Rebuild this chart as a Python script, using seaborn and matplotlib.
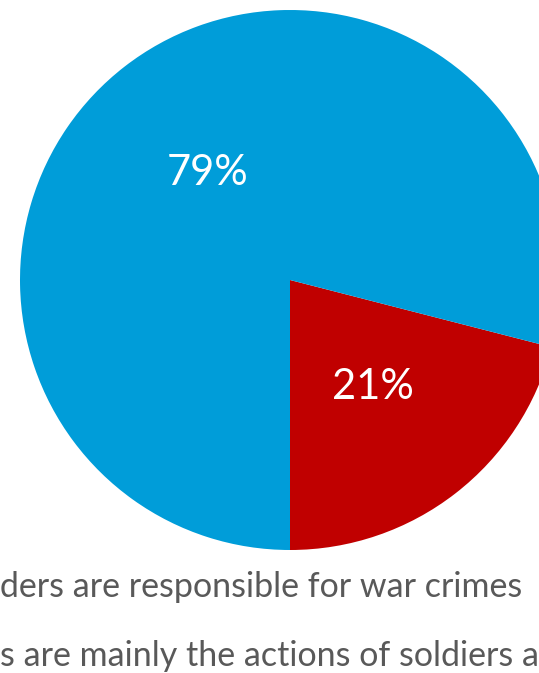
import matplotlib
matplotlib.use("Agg")
import matplotlib.pyplot as plt
import seaborn as sns

# Data
categories = ["Commanders are responsible for war crimes",
              "War crimes are mainly the actions of soldiers acting alone"]
values = [79, 21]
colors = ["#009DD9", "#C00000"]
# prefixes hidden beyond the left edge of the picture
hidden_prefix = ["Comman", "War crime"]

sns.set_theme(style="white")
plt.rcParams['font.family'] = ['Lato', 'DejaVu Sans']

W, H = 539, 673
fig = plt.figure(figsize=(W / 100, H / 100), dpi=100)
fig.patch.set_facecolor("white")

cx, cy, r = 290, 280, 270
ax = fig.add_axes([(cx - r) / W, 1 - (cy + r) / H, 2 * r / W, 2 * r / H])
ax.axis("off")

wedges, texts, autotexts = ax.pie(values[::-1], colors=colors[::-1], startangle=270,
                                  counterclock=True, radius=1, autopct='%1.0f%%',
                                  pctdistance=0.5, wedgeprops=dict(linewidth=0),
                                  textprops=dict(color="white", fontsize=30))
ax.set_xlim(-1, 1)
ax.set_ylim(-1, 1)
ax.set_aspect("equal")

renderer = fig.canvas.get_renderer()
baselines = [597, 666]
fs = 24.5
for label, prefix, yb in zip(categories, hidden_prefix, baselines):
    t = fig.text(0, 1 - yb / H, prefix, fontsize=fs, color="#595959", va="baseline", ha="left")
    wpx = t.get_window_extent(renderer).width
    t.remove()
    fig.text(-wpx / W, 1 - yb / H, label, fontsize=fs, color="#595959",
             va="baseline", ha="left")

fig.savefig("out.png", dpi=100)
